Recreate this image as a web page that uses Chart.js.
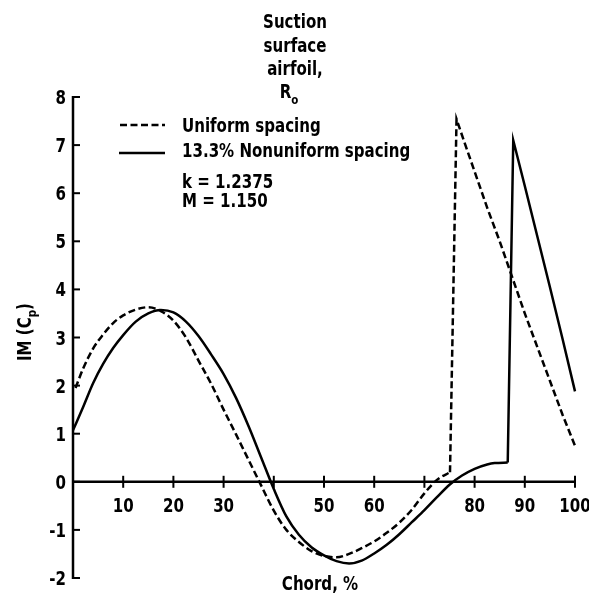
<!DOCTYPE html>
<html>
<head>
<meta charset="utf-8">
<script src="https://cdn.jsdelivr.net/npm/chart.js@4.4.1/dist/chart.umd.min.js"></script>
<style>
    html, body { margin: 0; padding: 0; background: #ffffff; }
    #wrap { position: relative; width: 589px; height: 598px; }
</style>
</head>
<body>
<div id="wrap"><canvas id="chart" width="589" height="598"></canvas></div>
<script>
// chord position (%) and IM(Cp) for each spacing case
const uniformChord = [0.5, 2, 4, 6, 8, 10, 12.5, 15, 17.5, 20, 22.5, 25, 27.5, 30, 32.5, 35, 37.5, 40,
    42.5, 45, 47.5, 50, 52.5, 55, 57.5, 60, 62.5, 65, 67.5, 70, 72.5, 75.1,
    76.4, 78, 80, 82.5, 85, 87, 90, 92.5, 95, 97.5, 100];
const uniformCp = [1.95, 2.35, 2.77, 3.06, 3.3, 3.46, 3.58, 3.63, 3.55, 3.35, 3.0, 2.52, 2.04, 1.5, 0.98, 0.45, -0.08, -0.6,
    -1.0, -1.25, -1.44, -1.54, -1.57, -1.5, -1.38, -1.24, -1.06, -0.85, -0.58, -0.24, 0.04, 0.2,
    7.54, 7.05, 6.45, 5.7, 5.0, 4.4, 3.5, 2.8, 2.1, 1.4, 0.75];
const uniformShock = 31;       // index where the pressure jump starts

const nonuniformChord = [0, 2, 4, 6, 8, 10, 12.5, 15, 17.5, 20, 22.5, 25, 27.5, 30, 32.5, 35, 37.5, 40,
    42.5, 45, 47.5, 50, 52.5, 55, 57.5, 60, 62.5, 65, 67.5, 70, 72.5, 75, 77.5, 80, 82.5, 84, 86.6,
    87.7, 90, 92.5, 95, 97.5, 100];
const nonuniformCp = [1.07, 1.55, 2.05, 2.45, 2.78, 3.05, 3.33, 3.5, 3.57, 3.52, 3.33, 3.03, 2.65, 2.24, 1.74, 1.15, 0.5, -0.15,
    -0.72, -1.1, -1.36, -1.53, -1.65, -1.7, -1.64, -1.49, -1.31, -1.09, -0.84, -0.59, -0.32, -0.06, 0.13, 0.27, 0.36, 0.39, 0.4,
    7.1, 6.15, 5.1, 4.05, 2.98, 1.88];
const nonuniformShock = 36;

const xTicks = [10, 20, 30, 40, 50, 60, 70, 80, 90, 100];
const xTickLabels = ['10', '20', '30', '', '50', '60', '', '80', '90', '100'];
const yTicks = [-2, -1, 0, 1, 2, 3, 4, 5, 6, 7, 8];

const titleLines = ['Suction', 'surface', 'airfoil,'];
const legendLabels = ['Uniform spacing', '13.3% Nonuniform spacing'];
const noteLines = ['k = 1.2375', 'M = 1.150'];

const FAMILY = "'DejaVu Sans Condensed', 'Liberation Sans Narrow', sans-serif";
const FONT = 'bold 19px ' + FAMILY;
const SMALL = 'bold 13px ' + FAMILY;
const SQUEEZE = 0.88;           // narrow the lettering a bit more
const INK = '#000000';
const DASH = [7, 3.5];

const toPoints = (xs, ys, from, to) => xs.slice(from, to).map((v, i) => ({ x: v, y: ys[from + i] }));

function put(ctx, str, x, y, align, font) {
    ctx.save();
    ctx.font = font || FONT;
    ctx.translate(x, y);
    ctx.scale(SQUEEZE, 1);
    ctx.textAlign = align || 'left';
    ctx.fillText(str, 0, 0);
    ctx.restore();
}

function width(ctx, str, font) {
    ctx.save();
    ctx.font = font || FONT;
    const w = ctx.measureText(str).width * SQUEEZE;
    ctx.restore();
    return w;
}

// axes, ticks, labels and legend drawn on top of the plot area
const frame = {
    id: 'frame',
    afterDatasetsDraw(chart) {
        const { ctx, scales: { x, y } } = chart;
        const x0 = x.getPixelForValue(0);
        const x100 = x.getPixelForValue(100);
        const y0 = y.getPixelForValue(0);
        const yTop = y.getPixelForValue(8);
        const yBot = y.getPixelForValue(-2);

        ctx.save();
        ctx.strokeStyle = INK;
        ctx.fillStyle = INK;
        ctx.lineCap = 'butt';
        ctx.textBaseline = 'alphabetic';

        // vertical axis with inward ticks
        ctx.lineWidth = 2.5;
        ctx.beginPath();
        ctx.moveTo(x0, yTop - 1);
        ctx.lineTo(x0, yBot + 1);
        ctx.stroke();
        ctx.lineWidth = 2;
        yTicks.forEach(v => {
            const py = y.getPixelForValue(v);
            ctx.beginPath();
            ctx.moveTo(x0, py);
            ctx.lineTo(x0 + 7, py);
            ctx.stroke();
            put(ctx, String(v), x0 - 7, py + 7, 'right');
        });

        // horizontal axis along zero with crossing ticks
        ctx.lineWidth = 2.5;
        ctx.beginPath();
        ctx.moveTo(x0, y0);
        ctx.lineTo(x100, y0);
        ctx.stroke();
        ctx.lineWidth = 2;
        xTicks.forEach((v, i) => {
            const px = x.getPixelForValue(v);
            ctx.beginPath();
            ctx.moveTo(px, y0 - 6);
            ctx.lineTo(px, y0 + 6);
            ctx.stroke();
            if (xTickLabels[i]) put(ctx, xTickLabels[i], px, y0 + 30, 'center');
        });

        // axis titles
        put(ctx, 'Chord, %', 320, 590, 'center');

        ctx.save();
        ctx.translate(31, 332);
        ctx.rotate(-Math.PI / 2);
        const head = 'IM (C';
        const total = width(ctx, head) + width(ctx, 'p', SMALL) + width(ctx, ')');
        let cx = -total / 2;
        put(ctx, head, cx, 0);
        cx += width(ctx, head);
        put(ctx, 'p', cx, 5, 'left', SMALL);
        cx += width(ctx, 'p', SMALL);
        put(ctx, ')', cx, 0);
        ctx.restore();

        // block title
        titleLines.forEach((t, i) => put(ctx, t, 295, 28 + i * 23.7, 'center'));
        const rW = width(ctx, 'R');
        const rx = 289 - (rW + width(ctx, 'o', SMALL)) / 2;
        put(ctx, 'R', rx, 98);
        put(ctx, 'o', rx + rW, 104, 'left', SMALL);

        // legend
        ctx.lineWidth = 2.5;
        ctx.setLineDash(DASH);
        ctx.beginPath();
        ctx.moveTo(120, 125);
        ctx.lineTo(165, 125);
        ctx.stroke();
        ctx.setLineDash([]);
        ctx.beginPath();
        ctx.moveTo(119, 153);
        ctx.lineTo(165, 153);
        ctx.stroke();
        put(ctx, legendLabels[0], 182, 132);
        put(ctx, legendLabels[1], 182, 157);
        noteLines.forEach((t, i) => put(ctx, t, 182, 188 + i * 18.5));

        ctx.restore();
    }
};

// each curve is split: smooth part before the jump, straight segments from the jump on
const curve = (label, xs, ys, cut, dashed, smooth) => ({
    label: label,
    data: smooth ? toPoints(xs, ys, 0, cut + 1) : toPoints(xs, ys, cut, xs.length),
    borderColor: INK,
    borderWidth: 2.5,
    borderDash: dashed ? DASH : [],
    pointRadius: 0,
    cubicInterpolationMode: smooth ? 'monotone' : 'default',
    tension: 0,
    clip: 6,
});

new Chart(document.getElementById('chart'), {
    type: 'line',
    data: {
        datasets: [
            curve(legendLabels[0], uniformChord, uniformCp, uniformShock, true, true),
            curve(legendLabels[0], uniformChord, uniformCp, uniformShock, true, false),
            curve(legendLabels[1], nonuniformChord, nonuniformCp, nonuniformShock, false, true),
            curve(legendLabels[1], nonuniformChord, nonuniformCp, nonuniformShock, false, false),
        ]
    },
    options: {
        responsive: false,
        animation: false,
        layout: { padding: { left: 73, right: 14, top: 97, bottom: 20 } },
        plugins: {
            legend: { display: false },
            tooltip: { enabled: false },
        },
        scales: {
            x: { type: 'linear', min: 0, max: 100, display: false },
            y: { type: 'linear', min: -2, max: 8, display: false },
        },
    },
    plugins: [frame],
});
</script>
</body>
</html>
